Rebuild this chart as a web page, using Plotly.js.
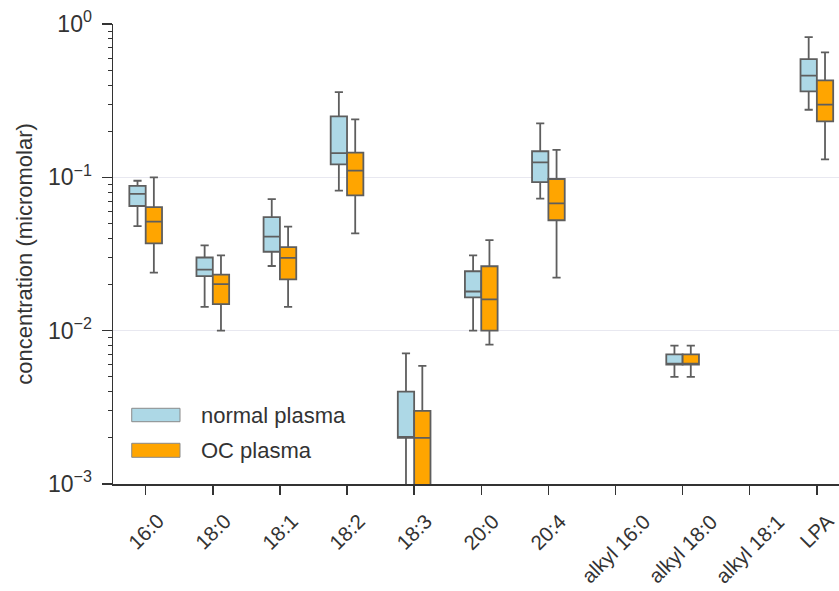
<!DOCTYPE html>
<html>
<head>
<meta charset="utf-8">
<script src="https://cdn.plot.ly/plotly-3.0.1.min.js"></script>
<style>html,body{margin:0;padding:0;background:#fff;}#chart{width:839px;height:591px;}</style>
</head>
<body>
<div id="chart"></div>
<script>
// categories on the x axis
const categories = ['16:0','18:0','18:1','18:2','18:3','20:0','20:4','alkyl 16:0','alkyl 18:0','alkyl 18:1','LPA'];
// categories that have boxes
const boxCats = ['16:0','18:0','18:1','18:2','18:3','20:0','20:4','alkyl 18:0','LPA'];

// normal plasma (micromolar)
const normalUpper  = [0.095, 0.036, 0.072, 0.36, 0.0071, 0.031, 0.225, 0.008, 0.82];
const normalQ3     = [0.088, 0.030, 0.055, 0.25, 0.0040, 0.0244, 0.148, 0.007, 0.59];
const normalMedian = [0.078, 0.025, 0.041, 0.144, 0.0020, 0.018, 0.125, 0.006, 0.46];
const normalQ1     = [0.065, 0.0227, 0.0327, 0.1216, 0.0020, 0.0165, 0.093, 0.006, 0.364];
const normalLower  = [0.048, 0.0143, 0.0264, 0.082, 0.0005, 0.010, 0.0726, 0.005, 0.276];

// OC plasma (micromolar)
const ocUpper  = [0.100, 0.031, 0.0477, 0.239, 0.0059, 0.039, 0.151, 0.008, 0.654];
const ocQ3     = [0.064, 0.0232, 0.0351, 0.145, 0.0030, 0.0263, 0.0975, 0.007, 0.429];
const ocMedian = [0.0514, 0.0201, 0.0298, 0.1105, 0.0020, 0.016, 0.0677, 0.006, 0.298];
const ocQ1     = [0.0371, 0.0149, 0.0216, 0.0763, 0.0005, 0.010, 0.0525, 0.006, 0.232];
const ocLower  = [0.0239, 0.010, 0.0143, 0.0431, 0.0003, 0.0081, 0.0222, 0.005, 0.131];

// y tick labels
const yTickVals = [0.001, 0.01, 0.1, 1];
const yTickText = ['10<sup>\u22123</sup>', '10<sup>\u22122</sup>', '10<sup>\u22121</sup>', '10<sup>0</sup>'];
const yMinorVals = [0.002,0.003,0.004,0.005,0.006,0.007,0.008,0.009,
                    0.02,0.03,0.04,0.05,0.06,0.07,0.08,0.09,
                    0.2,0.3,0.4,0.5,0.6,0.7,0.8,0.9];

const seriesNames = ['normal plasma', 'OC plasma'];
const seriesColors = ['#add8e6', '#ffa500'];

const FONT = 'Arial, "Liberation Sans", Helvetica, sans-serif';
const TXT = '#333333';
const LINE = '#5e5e5e';

const boxStyle = {
  type: 'box',
  boxpoints: false,
  whiskerwidth: 0.5,
  line: {color: LINE, width: 1.8},
  showlegend: false,
  hoverinfo: 'skip'
};

const traces = [
  // registers every category on the axis (no marks)
  {type: 'scatter', mode: 'markers', x: categories, y: categories.map(() => null), showlegend: false, hoverinfo: 'skip'},
  Object.assign({}, boxStyle, {
    name: seriesNames[0], x: boxCats,
    q1: normalQ1, median: normalMedian, q3: normalQ3,
    lowerfence: normalLower, upperfence: normalUpper,
    fillcolor: seriesColors[0]
  }),
  Object.assign({}, boxStyle, {
    name: seriesNames[1], x: boxCats,
    q1: ocQ1, median: ocMedian, q3: ocQ3,
    lowerfence: ocLower, upperfence: ocUpper,
    fillcolor: seriesColors[1]
  })
];

// legend drawn as keys + labels inside the plot
const legendY = [[0.1354, 0.1646], [0.058, 0.0885]];
const shapes = seriesNames.map((n, i) => ({
  type: 'rect', xref: 'paper', yref: 'paper',
  x0: 0.0258, x1: 0.0923, y0: legendY[i][0], y1: legendY[i][1],
  fillcolor: seriesColors[i], line: {color: '#8a8a8a', width: 1}
}));
const annotations = seriesNames.map((n, i) => ({
  xref: 'paper', yref: 'paper', x: 0.1185, y: (legendY[i][0] + legendY[i][1]) / 2,
  xanchor: 'left', yanchor: 'middle', showarrow: false, text: n,
  font: {family: FONT, size: 22, color: TXT}
}));
// x tick labels: rotated 45 degrees, centred under each tick
categories.forEach(c => annotations.push({
  xref: 'x', yref: 'paper', x: c, y: -0.052,
  xanchor: 'center', yanchor: 'top', showarrow: false, text: c, textangle: -45,
  borderpad: 0,
  font: {family: FONT, size: 20.5, color: TXT}
}));

const layout = {
  width: 839, height: 591,
  margin: {l: 113, r: 0, t: 24, b: 107},
  paper_bgcolor: '#ffffff', plot_bgcolor: '#ffffff',
  boxmode: 'group', boxgap: 0.513, boxgroupgap: 0,
  showlegend: false,
  font: {family: FONT, color: TXT},
  xaxis: {
    type: 'category', categoryorder: 'array', categoryarray: categories,
    range: [-0.487, 10.33],
    showline: true, linecolor: '#333', linewidth: 1.5,
    ticks: 'outside', ticklen: 9, tickwidth: 1.5, tickcolor: '#333',
    showticklabels: false,
    showgrid: false, zeroline: false, automargin: false
  },
  yaxis: {
    type: 'log', range: [-3, 0],
    tickmode: 'array', tickvals: yTickVals, ticktext: yTickText,
    showline: true, linecolor: '#333', linewidth: 1.5,
    ticks: 'outside', ticklen: 10, tickwidth: 1.5, tickcolor: '#333',
    ticklabelstandoff: 5,
    tickfont: {family: FONT, size: 23, color: TXT},
    minor: {tickmode: 'array', tickvals: yMinorVals, ticks: 'outside', ticklen: 4, tickwidth: 1, tickcolor: '#333', showgrid: false},
    showgrid: true, gridcolor: '#e8e8f0', gridwidth: 1.5,
    zeroline: false, automargin: false,
    title: {text: 'concentration (micromolar)', font: {family: FONT, size: 22, color: TXT}, standoff: 9}
  },
  shapes: shapes,
  annotations: annotations
};

Plotly.newPlot('chart', traces, layout, {displayModeBar: false, staticPlot: true});
</script>
</body>
</html>
